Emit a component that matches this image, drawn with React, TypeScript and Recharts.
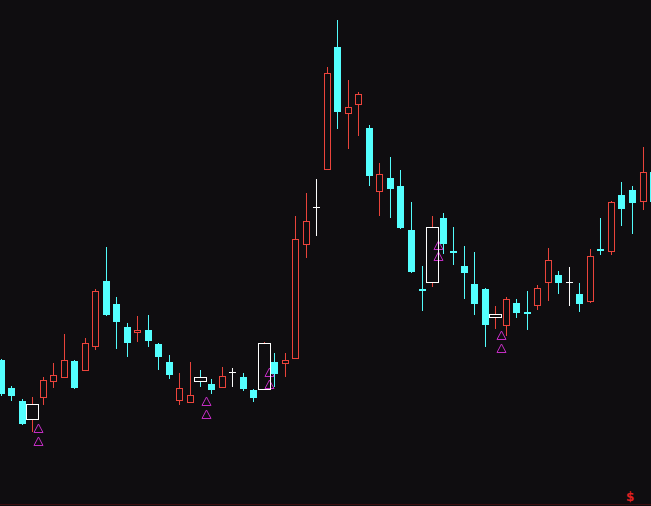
import { ComposedChart, Bar, XAxis, YAxis } from "recharts"

// price readings, one entry per session (index 0 is cut by the left edge)
const opens = [
  14.6, 11.8, 10.5, 8.7, 10.9, 12.5, 12.9, 14.5, 13.6, 16.0,
  22.5, 20.2, 17.9, 17.4, 17.6, 16.2, 14.4, 10.6, 10.4, 12.9,
  12.2, 11.9, 13.4, 12.9, 11.6, 11.7, 14.4, 14.3, 14.8, 26.2,
  29.9, 33.7, 45.9, 39.3, 40.2, 37.8, 31.5, 32.8, 32.0, 27.6,
  21.7, 22.4, 28.8, 25.5, 24.0, 22.2, 21.7, 18.9, 18.1, 20.3,
  19.4, 20.1, 22.4, 23.1, 22.4, 21.2, 20.5, 25.7, 25.5, 31.1,
  31.6, 30.5, 33.4,
]
const closes = [
  11.2, 11.0, 8.2, 10.2, 12.6, 13.1, 14.6, 11.8, 16.3, 21.5,
  19.1, 18.4, 16.3, 17.6, 16.5, 14.9, 13.1, 11.8, 11.1, 12.5,
  11.6, 13.0, 13.4, 11.7, 10.8, 16.3, 13.2, 14.6, 26.7, 28.5,
  29.9, 43.3, 39.4, 39.9, 41.2, 33.0, 33.2, 31.7, 27.8, 23.4,
  21.5, 27.9, 26.2, 25.3, 23.3, 20.2, 18.1, 19.2, 20.7, 19.3,
  19.2, 21.8, 24.6, 22.3, 22.4, 20.2, 25.0, 25.5, 30.4, 29.7,
  30.3, 33.4, 30.4,
]
const highs = [
  14.7, 12.0, 10.7, 10.9, 12.9, 14.3, 17.2, 14.6, 16.8, 21.7,
  25.9, 20.9, 18.3, 19.0, 19.1, 16.3, 15.1, 13.3, 14.4, 13.6,
  12.7, 13.9, 13.8, 13.3, 11.7, 16.4, 15.3, 15.3, 29.0, 31.3,
  32.7, 43.9, 48.6, 42.6, 41.4, 38.1, 34.3, 34.9, 33.6, 30.4,
  24.0, 29.0, 29.3, 27.9, 26.0, 25.4, 21.8, 20.0, 20.9, 20.7,
  21.5, 22.1, 25.8, 23.5, 23.9, 22.3, 25.7, 28.8, 30.5, 32.4,
  32.0, 35.9, 34.1,
]
const lows = [
  11.0, 10.5, 8.1, 7.4, 10.1, 11.8, 12.8, 11.7, 13.5, 15.6,
  19.0, 15.7, 14.9, 16.4, 15.9, 13.6, 12.7, 10.1, 10.3, 11.9,
  11.2, 11.8, 11.9, 11.5, 10.4, 11.7, 11.9, 12.9, 14.8, 24.8,
  27.0, 33.6, 37.7, 35.7, 37.0, 32.0, 29.0, 28.8, 27.7, 23.3,
  19.5, 21.9, 25.2, 24.1, 20.7, 19.1, 15.9, 17.7, 17.0, 18.8,
  17.6, 19.6, 20.5, 21.2, 20.0, 19.4, 20.3, 25.1, 25.1, 28.0,
  27.2, 29.6, 30.1,
]
// sessions drawn with the wide white box; each one also carries the
// double triangle signal, half a session to its right
const markedDays = [3, 19, 25, 41, 47]
const signalUpper = [7.85, 10.5, 13.45, 26.15, 17.15]
const signalLower = [6.55, 9.2, 12.25, 25.0, 15.8]

const RED = "#ec443c"
const CYAN = "#54ffff"
const WHITE = "#ffffff"
const MAGENTA = "#c62ec6"
const BG = "#0f0d10"

const STEP = 10.525
const PRICE_MAX = 50.6

const candles = opens.map((open, i) => {
  const k = markedDays.indexOf(i)
  return {
    i,
    open,
    close: closes[i],
    high: highs[i],
    low: lows[i],
    range: [lows[i], highs[i]],
    marked: k >= 0,
    sigHi: k >= 0 ? signalUpper[k] : null,
    sigLo: k >= 0 ? signalLower[k] : null,
  }
})

function tri(cx: number, cy: number) {
  const px = Math.round(cx) + 0.5
  const py = Math.round(cy) + 0.5
  return `M${px},${py - 4.5} L${px - 4.5},${py + 4} L${px + 4.5},${py + 4} Z`
}

function Candle(props: any) {
  const { x, y, width, height, payload } = props
  if (!payload) return null
  const top = Math.min(y, y + height)
  const bot = Math.max(y, y + height)
  const { open, close, high, low, marked, sigHi, sigLo } = payload
  // linear map along the bar's own scaled extent
  const toY = (v: number) => top + ((high - v) / (high - low)) * (bot - top)
  const cx = Math.round(x + width / 2)
  const flat = open === close
  const up = close > open
  const color = flat ? WHITE : up ? RED : CYAN
  const bTop = Math.round(toY(Math.max(open, close)))
  const bBot = Math.round(toY(Math.min(open, close)))
  const hY = Math.round(toY(high))
  const lY = Math.round(toY(low))
  const wx = cx + 0.5

  if (marked) {
    const sx = x + width
    return (
      <g>
        <path d={tri(sx, toY(sigHi))} fill="none" stroke={MAGENTA} />
        <path d={tri(sx, toY(sigLo))} fill="none" stroke={MAGENTA} />
        <line x1={wx} x2={wx} y1={hY} y2={bTop} stroke={color} />
        <line x1={wx} x2={wx} y1={bBot} y2={lY} stroke={color} />
        <rect x={cx - 6 + 0.5} y={bTop + 0.5} width={12} height={Math.max(bBot - bTop, 2)} fill="none" stroke={WHITE} />
      </g>
    )
  }
  if (flat) {
    return (
      <g>
        <line x1={wx} x2={wx} y1={hY} y2={lY} stroke={WHITE} />
        <line x1={cx - 3} x2={cx + 4} y1={bTop + 0.5} y2={bTop + 0.5} stroke={WHITE} />
      </g>
    )
  }
  if (up) {
    return (
      <g>
        <line x1={wx} x2={wx} y1={hY} y2={bTop} stroke={RED} />
        <line x1={wx} x2={wx} y1={bBot} y2={lY} stroke={RED} />
        <rect x={cx - 3 + 0.5} y={bTop + 0.5} width={6} height={Math.max(bBot - bTop, 1)} fill="none" stroke={RED} />
      </g>
    )
  }
  return (
    <g>
      <line x1={wx} x2={wx} y1={hY} y2={lY} stroke={CYAN} />
      <rect x={cx - 3} y={bTop} width={7} height={Math.max(bBot - bTop, 2)} fill={CYAN} />
    </g>
  )
}

export default function App() {
  const chartW = candles.length * STEP
  return (
    <div
      style={{
        position: "absolute",
        left: 0,
        top: 0,
        width: 651,
        height: 506,
        overflow: "hidden",
        background: BG,
      }}
    >
      <div style={{ position: "absolute", left: -5, top: 0 }}>
        <ComposedChart
          width={chartW}
          height={506}
          data={candles}
          margin={{ top: 0, right: 0, bottom: 0, left: 0 }}
          barCategoryGap={0}
          barGap={0}
        >
          <XAxis dataKey="i" type="category" hide />
          <YAxis type="number" domain={[0, PRICE_MAX]} hide allowDataOverflow />
          <Bar
            dataKey="range"
            shape={(p: any) => <Candle {...p} />}
            isAnimationActive={false}
          />
        </ComposedChart>
      </div>
      <div style={{ position: "absolute", left: 0, top: 504, width: 651, height: 1, background: "#3c0d10" }} />
      <div
        style={{
          position: "absolute",
          left: 626,
          top: 490,
          color: "#e02020",
          fontFamily: "DejaVu Sans",
          fontSize: 12,
          fontWeight: "bold",
          lineHeight: "14px",
        }}
      >
        $
      </div>
    </div>
  )
}
